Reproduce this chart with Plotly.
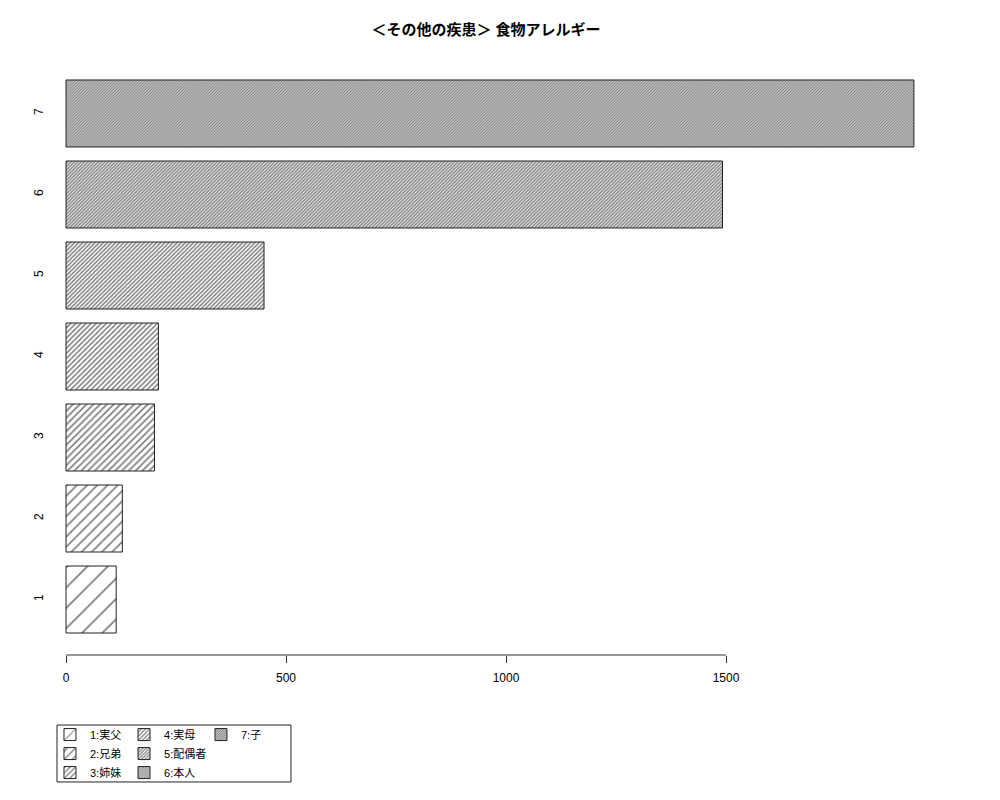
import plotly.graph_objects as go

# 続柄ごとの件数
labels = ["1:実父", "2:兄弟", "3:姉妹", "4:実母", "5:配偶者", "6:本人", "7:子"]
positions = [1, 2, 3, 4, 5, 6, 7]
counts = [114, 128, 201, 210, 450, 1492, 1927]
tick_vals = [0, 500, 1000, 1500]

# 斜線の間隔(R の density=5,10,...,35 に相当、plotly のタイルは size*√2 なので割っておく)
hatch_size = [14.4, 7.2, 4.8, 3.6, 2.9, 2.4, 2.06]
legend_of = ["legend", "legend", "legend", "legend2", "legend2", "legend2", "legend3"]

font_family = "Liberation Sans, Noto Sans CJK JP, sans-serif"

fig = go.Figure()

for i in range(len(labels)):
    # 線幅が約 0.9px になるように solidity を決める
    solid = 1 - (1 - 0.9 / hatch_size[i]) ** 2
    fig.add_trace(go.Bar(
        x=[counts[i]], y=[positions[i]], orientation='h', name=labels[i],
        width=0.827, legend=legend_of[i],
        marker=dict(color='white',
                    line=dict(color='#222', width=1),
                    pattern=dict(shape='/', size=hatch_size[i], solidity=solid,
                                 fgcolor='black', bgcolor='white')),
        hoverinfo='skip'
    ))

# x 軸の線は 0 から 1500 まで(R の axis と同じ)
fig.add_shape(type='line', xref='x', yref='paper', x0=tick_vals[0], x1=tick_vals[-1],
              y0=0, y1=0, line=dict(color='#333', width=1))

# 凡例の枠
fig.add_shape(type='rect', xref='paper', yref='paper', x0=0.0122, x1=0.2716,
              y0=-0.2127, y1=-0.1173, line=dict(color='#222', width=1))

leg = dict(orientation='v', xanchor='left', yanchor='top', y=-0.109,
           bgcolor='rgba(0,0,0,0)', borderwidth=0, tracegroupgap=0,
           font=dict(size=11, family=font_family, color='black'), itemclick=False)

fig.update_layout(
    width=1000, height=800,
    paper_bgcolor='white', plot_bgcolor='white',
    margin=dict(l=38, r=60, t=50, b=153),
    font=dict(family=font_family, color='black'),
    title=dict(text='<b>＜その他の疾患＞ 食物アレルギー</b>', x=0.478, xref='container',
               xanchor='center', y=1 - 22 / 800, yanchor='middle', yref='container',
               font=dict(size=15, family=font_family, color='black')),
    barmode='overlay',
    xaxis=dict(range=[-45.5, 2004.5], tickvals=tick_vals, ticks='outside', ticklen=7,
               tickcolor='#333', showline=False, showgrid=False, zeroline=False,
               ticklabelstandoff=5, tickfont=dict(size=12)),
    yaxis=dict(range=[0.315, 7.685], tickvals=positions, ticktext=[str(p) for p in positions],
               tickangle=-90, ticks='', showline=False, showgrid=False, zeroline=False,
               tickfont=dict(size=12)),
    legend=dict(leg, x=0.0044),
    legend2=dict(leg, x=0.0865),
    legend3=dict(leg, x=0.1718),
    showlegend=True,
)

fig.write_html("out.html")
